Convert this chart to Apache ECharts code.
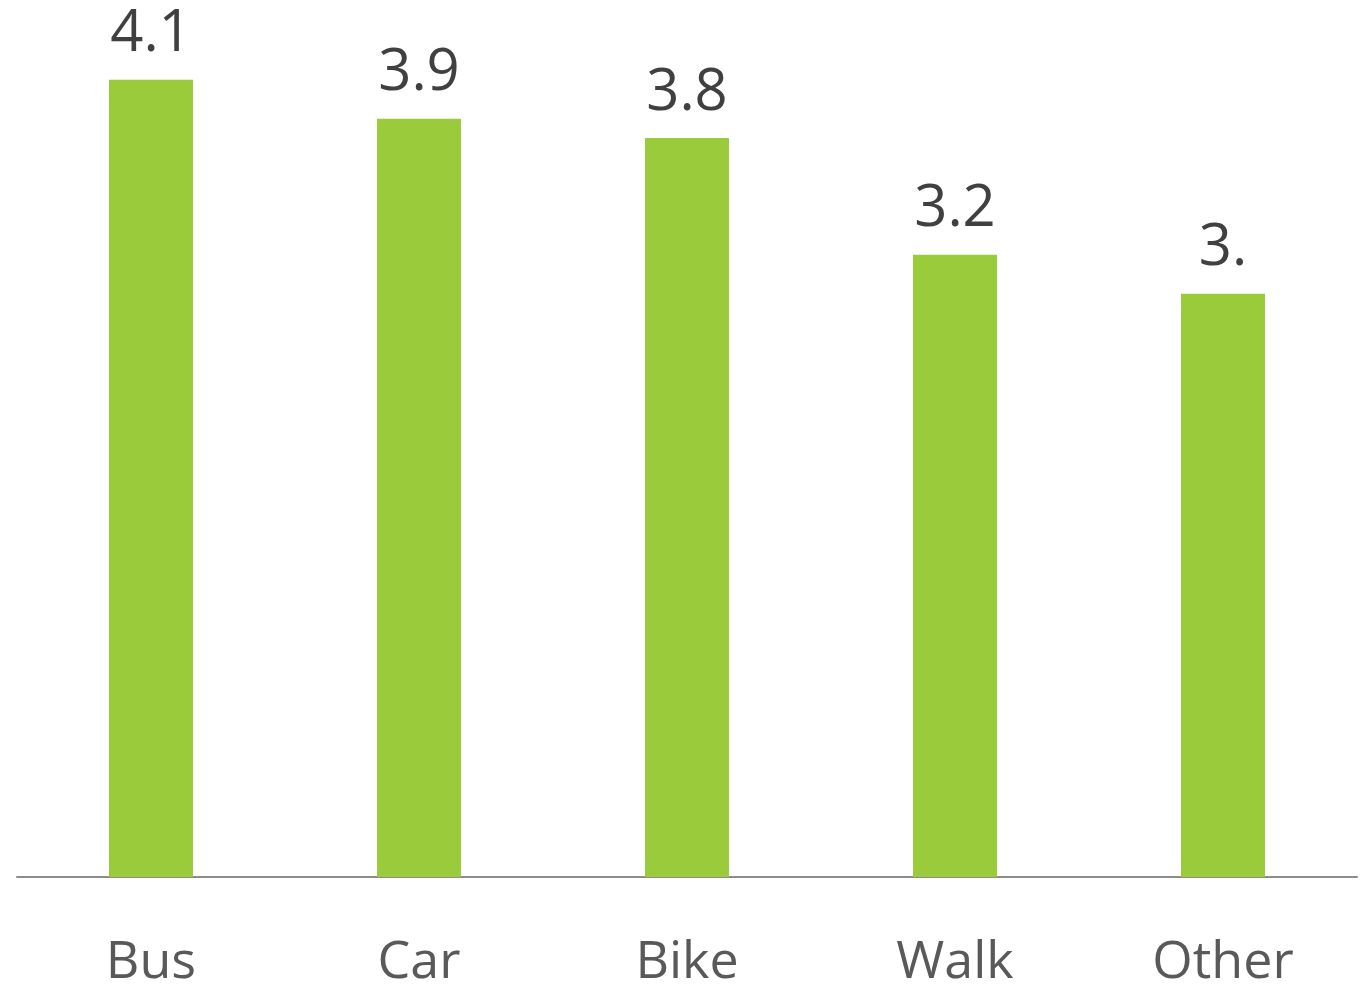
<!DOCTYPE html>
<html>
    <head>
        <meta charset="UTF-8">
        <title></title>
        <script type="text/javascript" src="https://cdn.jsdelivr.net/npm/echarts@6/dist/echarts.min.js"></script>
        <style>
            html, body { margin: 0; padding: 0; background: #fff; }
        </style>
    </head>
    <body>
        <div id="main" style="width: 1364px;height:984px;"></div>
    </body>
</html>
<script type="text/javascript">
        var categories = ['Bus', 'Car', 'Bike', 'Walk', 'Other'];
        var values = [4.1, 3.9, 3.8, 3.2, 3.0];
        // labels as shown on the chart ("3." for the last bar)
        var valueLabels = ['4.1', '3.9', '3.8', '3.2', '3.'];

        var myChart = echarts.init(document.getElementById('main'));
        var option = {
                animation: false,
                grid: {
                        left: 17,
                        right: 7,
                        top: 2,
                        bottom: 107,
                        outerBoundsMode: 'none'
                },
                xAxis: {
                        type: 'category',
                        data: categories,
                        axisLine: {
                                lineStyle: { color: '#8c8c8c', width: 2 }
                        },
                        axisTick: { show: false },
                        axisLabel: {
                                margin: 60,
                                fontFamily: 'Open Sans',
                                fontSize: 52,
                                color: '#595959'
                        }
                },
                yAxis: {
                        type: 'value',
                        min: 0,
                        max: 4.5,
                        show: false,
                        splitLine: { show: false }
                },
                series: [{
                        type: 'bar',
                        data: values,
                        barWidth: 84,
                        itemStyle: { color: '#9ACB3A' },
                        label: {
                                show: true,
                                position: 'top',
                                distance: 16,
                                fontFamily: 'Open Sans',
                                fontSize: 58,
                                color: '#404040',
                                formatter: function(p) {
                                        return valueLabels[p.dataIndex];
                                }
                        }
                }]
        };
        myChart.setOption(option);
</script>
